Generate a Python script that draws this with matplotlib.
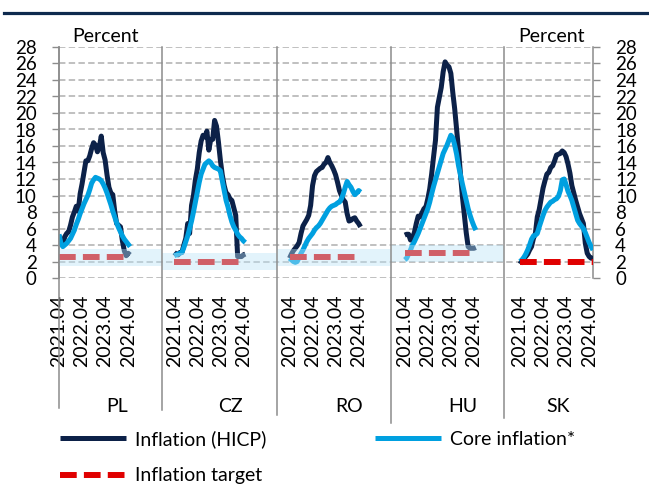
import matplotlib
matplotlib.use("Agg")
import matplotlib.pyplot as plt
import matplotlib.transforms as mtransforms
from matplotlib.lines import Line2D

plt.rcParams['font.family'] = ['Lato', 'DejaVu Sans']

# ---------------- data ----------------
countries = ['PL', 'CZ', 'RO', 'HU', 'SK']
year_labels = ['2021.04', '2022.04', '2023.04', '2024.04']

hicp_pl = [5.1, 4.6, 4.1, 5.0, 5.4, 5.6, 6.4, 7.4, 8.0, 8.7, 8.1, 10.2, 11.4, 12.8, 14.2, 14.2,
           14.8, 15.7, 16.4, 16.1, 15.3, 15.9, 17.2, 15.2, 14.3, 12.5, 11.0, 10.3, 10.1, 8.1,
           6.6, 6.4, 6.2, 4.5, 3.3, 2.7, 3.0, 2.8]
core_pl = [5.3, 4.2, 3.8, 4.0, 4.2, 4.5, 4.8, 5.3, 5.8, 6.5, 7.1, 7.8, 8.4, 9.0, 9.5, 10.0,
           10.7, 11.5, 11.9, 12.2, 12.1, 12.0, 11.8, 11.4, 10.9, 10.3, 9.6, 8.9, 8.1, 7.4,
           6.7, 6.1, 5.6, 5.1, 4.7, 4.4, 4.1, 3.8]

hicp_cz = [3.1, 2.9, 2.8, 3.1, 3.1, 4.0, 4.8, 6.6, 5.4, 8.8, 10.0, 11.9, 13.2, 15.2, 16.6, 17.3,
           17.1, 17.8, 15.5, 16.8, 16.8, 19.1, 18.4, 16.5, 14.3, 12.5, 11.2, 10.3, 10.1, 9.6,
           9.4, 8.5, 7.6, 2.6, 2.6, 2.6, 2.8, 2.9]
core_cz = [2.7, 2.8, 2.9, 3.0, 3.1, 3.7, 4.4, 5.1, 6.0, 6.9, 8.0, 9.2, 10.4, 11.6, 12.6, 13.2,
           13.8, 14.0, 14.2, 14.0, 13.6, 13.4, 13.3, 13.2, 13.0, 11.8, 10.6, 9.4, 8.6, 7.6,
           6.8, 6.2, 5.8, 5.3, 5.0, 4.8, 4.5, 4.3]

hicp_ro = [2.4, 2.9, 3.3, 3.6, 3.9, 4.3, 5.4, 6.3, 6.7, 7.1, 7.6, 8.8, 11.2, 12.4, 12.9, 13.1,
           13.3, 13.4, 13.8, 14.0, 14.6, 14.0, 13.6, 13.1, 12.5, 11.6, 10.6, 10.0, 9.5, 9.2,
           7.8, 6.9, 7.0, 7.2, 7.3, 6.9, 6.6, 6.2]
core_ro = [2.4, 2.2, 2.0, 1.9, 2.0, 2.5, 3.0, 3.4, 3.9, 4.4, 4.8, 5.1, 5.4, 5.8, 6.1, 6.3,
           6.6, 7.0, 7.4, 7.8, 8.2, 8.5, 8.7, 8.8, 8.9, 9.1, 9.2, 9.6, 10.2, 11.0,
           11.7, 11.3, 11.0, 10.5, 10.1, 10.3, 10.6, 10.4]

hicp_hu = [5.2, 5.3, 5.3, 4.6, 4.9, 5.5, 6.6, 7.5, 7.4, 7.9, 8.4, 8.6, 9.6, 10.8, 12.6, 14.7,
           16.7, 20.7, 21.9, 23.1, 25.0, 26.2, 25.8, 25.6, 24.8, 22.5, 20.5, 18.0, 15.5, 12.6,
           9.9, 7.7, 5.5, 3.8, 3.6, 3.6, 3.6, 3.7]
core_hu = [2.2, 2.4, 2.9, 3.4, 4.0, 4.4, 4.9, 5.4, 6.0, 6.6, 7.2, 7.8, 8.4, 9.2, 10.2, 11.1,
           11.9, 12.7, 13.5, 14.3, 15.1, 15.6, 16.1, 16.7, 17.3, 17.0, 16.1, 15.0, 13.6, 12.5,
           11.4, 10.4, 9.4, 8.4, 7.6, 6.9, 6.3, 5.8]

hicp_sk = [1.7, 2.1, 2.4, 2.6, 2.9, 3.4, 3.8, 4.8, 5.4, 7.4, 8.3, 9.6, 10.9, 11.8, 12.6, 12.8,
           13.4, 13.6, 14.2, 14.9, 15.0, 15.1, 15.4, 15.2, 14.7, 13.8, 12.7, 11.2, 10.3, 9.4,
           8.6, 7.8, 7.2, 6.6, 4.2, 3.0, 2.6, 2.4, 2.4]
core_sk = [2.0, 2.2, 2.5, 2.9, 3.4, 4.0, 4.7, 5.1, 5.2, 5.4, 6.2, 6.9, 7.6, 8.2, 8.6, 8.9,
           9.2, 9.3, 9.5, 9.6, 9.9, 10.6, 11.9, 12.0, 11.3, 10.5, 10.0, 9.4, 8.6, 7.8,
           7.0, 6.6, 6.3, 6.0, 5.5, 4.9, 4.3, 3.8, 3.4]

hicp = [hicp_pl, hicp_cz, hicp_ro, hicp_hu, hicp_sk]
core = [core_pl, core_cz, core_ro, core_hu, core_sk]
targets = [2.5, 2.0, 2.5, 3.0, 2.0]
band_low = [1.5, 1.0, 1.5, 2.0, None]
band_high = [3.5, 3.0, 3.5, 4.0, None]

# ---------------- style ----------------
NAVY = '#0c2148'
CORE = '#00a0e0'
RED = '#e00000'
GRAY = '#8c8c8c'
BAND = '#bbe4f7'

BLOCK = 60          # months per country block (data + gap)
SEP_OFFSET = [6.5, 6.5, 7.0, 8.5]   # separator distance before a block start

W, H = 649, 490
fig = plt.figure(figsize=(W / 100, H / 100), dpi=100)
ax = fig.add_axes([59 / W, 1 - 278 / H, 534 / W, 231 / H])

starts = [i * BLOCK for i in range(len(countries))]
seps = [starts[i + 1] - SEP_OFFSET[i] for i in range(len(countries) - 1)]
edges = [0] + seps + [starts[-1] + len(hicp_sk) - 1]

for i, c in enumerate(countries):
    s = starts[i]
    xs = [s + k for k in range(len(hicp[i]))]
    ax.plot(xs, hicp[i], color=NAVY, lw=3.6, zorder=3, solid_capstyle='butt',
            label='Inflation (HICP)' if i == 0 else None)
    xc = [s + k for k in range(len(core[i]))]
    ax.plot(xc, core[i], color=CORE, lw=3.6, zorder=3.1, solid_capstyle='butt',
            label='Core inflation*' if i == 0 else None)
    ax.plot([xs[0], xs[-1]], [targets[i], targets[i]], color=RED, lw=4.3,
            dashes=(2.8, 1.2), dash_capstyle='butt', zorder=3.2,
            label='Inflation target' if i == 0 else None)
    if band_low[i] is not None:
        ax.fill_between([edges[i], edges[i + 1]], band_low[i], band_high[i],
                        color=BAND, alpha=0.42, lw=0, zorder=5)

ax.set_xlim(0, edges[-1])
ax.set_ylim(0, 28)

# y axis
ax.set_yticks(range(0, 29, 2))
ax.yaxis.grid(True, color='#c0c0c0', lw=1.4, linestyle=(0, (3.3, 1.7)))
ax.set_axisbelow(True)
ax.tick_params(axis='y', left=True, right=True, labelleft=True, labelright=True,
               length=5, width=1, color=GRAY, pad=11, labelsize=13.5)
for sp in ['top', 'bottom']:
    ax.spines[sp].set_visible(False)
for sp in ['left', 'right']:
    ax.spines[sp].set_color(GRAY)
    ax.spines[sp].set_linewidth(1.1)

# x axis
xt, xl = [], []
for s in starts:
    for k, lab in enumerate(year_labels):
        xt.append(s + 12 * k)
        xl.append(lab)
ax.set_xticks(xt)
ax.set_xticklabels(xl, rotation=90, fontsize=14)
ax.tick_params(axis='x', length=0, pad=12)

# separators extending below the axis
trans = mtransforms.blended_transform_factory(ax.transData, ax.transAxes)
sep_bottom_px = [408, 410, 415, 423, 418]
for j, xsep in enumerate([0] + seps):
    yb = (278 - sep_bottom_px[j]) / 231
    ax.plot([xsep, xsep], [1.0, yb], transform=trans, clip_on=False,
            color=GRAY, lw=1.1, zorder=6)

# country labels
label_offset = [30, 29.5, 31, 30, 20]
for i, c in enumerate(countries):
    ax.text(starts[i] + label_offset[i], (278 - 406) / 231, c, transform=trans,
            ha='center', va='center', fontsize=14)

# unit labels
fig.text(105 / W, 1 - 37 / H, 'Percent', ha='center', va='center', fontsize=14)
fig.text(552 / W, 1 - 37 / H, 'Percent', ha='center', va='center', fontsize=14)

# top rule
fig.add_artist(Line2D([4 / W, 1], [1 - 13 / H, 1 - 13 / H], color='#0e2a4e', lw=2.3))

# legend
h, l = ax.get_legend_handles_labels()
order = [0, 2, 1]
fig.legend([h[k] for k in order], [l[k] for k in order], ncol=2, loc='upper left',
           bbox_to_anchor=(60 / W, 1 - 430 / H), frameon=False, fontsize=14,
           handlelength=3.4, handletextpad=0.45, columnspacing=5.6,
           labelspacing=1.0, borderpad=0, borderaxespad=0)

fig.savefig('out.png', dpi=100)
